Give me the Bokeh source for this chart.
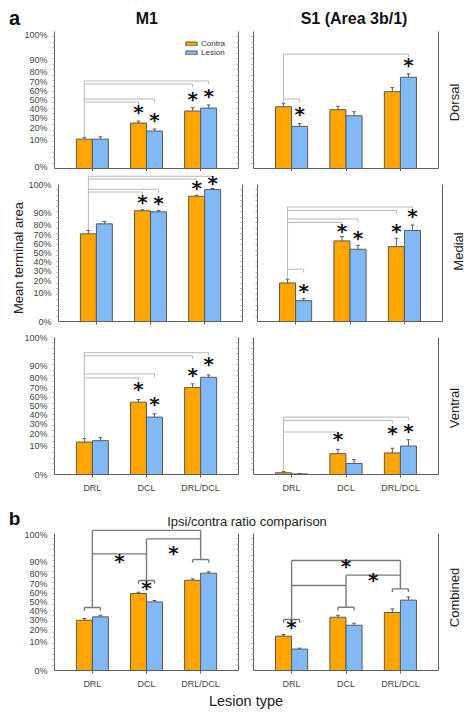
import numpy as np
from bokeh.plotting import figure
from bokeh.models import (ColumnDataSource, FixedTicker, LinearAxis, Range1d,
                          Label, CustomJSTickFormatter)
from bokeh.layouts import column, row
from bokeh.embed import file_html
from bokeh.resources import INLINE
from bokeh.core.properties import value

# ---------------- data ----------------
groups = ["DRL", "DCL", "DRL/DCL"]
series = ["Contra", "Lesion"]
tick_percent = [0, 10, 20, 30, 40, 50, 60, 70, 80, 90, 100]

# mean terminal area (proportion) per group, and upper error (SEM)
dorsal_m1_contra = [0.109, 0.248, 0.375]
dorsal_m1_lesion = [0.109, 0.173, 0.408]
dorsal_m1_contra_sem = [0.013, 0.020, 0.037]
dorsal_m1_lesion_sem = [0.017, 0.018, 0.035]

dorsal_s1_contra = [0.423, 0.390, 0.595]
dorsal_s1_lesion = [0.216, 0.323, 0.749]
dorsal_s1_contra_sem = [0.039, 0.038, 0.045]
dorsal_s1_lesion_sem = [0.025, 0.044, 0.033]

medial_m1_contra = [0.713, 0.912, 0.982]
medial_m1_lesion = [0.810, 0.905, 0.9966]
medial_m1_contra_sem = [0.034, 0.0065, 0.0027]
medial_m1_lesion_sem = [0.021, 0.0095, 0.0013]

medial_s1_contra = [0.183, 0.637, 0.573]
medial_s1_lesion = [0.056, 0.543, 0.747]
medial_s1_contra_sem = [0.034, 0.047, 0.093]
medial_s1_lesion_sem = [0.011, 0.045, 0.052]

ventral_m1_contra = [0.132, 0.544, 0.705]
ventral_m1_lesion = [0.143, 0.374, 0.806]
ventral_m1_contra_sem = [0.028, 0.030, 0.038]
ventral_m1_lesion_sem = [0.025, 0.037, 0.021]

ventral_s1_contra = [0.0004, 0.056, 0.060]
ventral_s1_lesion = [0.00005, 0.016, 0.103]
ventral_s1_contra_sem = [0.0008, 0.025, 0.0275]
ventral_s1_lesion_sem = [0.0001, 0.013, 0.048]

combined_m1_contra = [0.297, 0.597, 0.739]
combined_m1_lesion = [0.333, 0.501, 0.807]
combined_m1_contra_sem = [0.018, 0.014, 0.014]
combined_m1_lesion_sem = [0.018, 0.016, 0.012]

combined_s1_contra = [0.147, 0.329, 0.381]
combined_s1_lesion = [0.059, 0.246, 0.521]
combined_s1_contra_sem = [0.014, 0.022, 0.040]
combined_s1_lesion_sem = [0.005, 0.0205, 0.037]

# significance annotations (bar index: 0=DRL contra,1=DRL lesion,2=DCL contra,...)
# comparisons vs DRL contra: target bar, bracket level (axis fraction)
dorsal_m1_cmp = ([5, 4, 3, 2], [0.639, 0.617, 0.507, 0.485])
dorsal_s1_cmp = ([5, 1], [0.835, 0.507])
medial_m1_cmp = ([5, 4, 3, 2], [1.06, 1.04, 0.965, 0.945])
medial_s1_cmp = ([5, 4, 3, 2, 1], [0.836, 0.811, 0.748, 0.723, 0.382])
ventral_m1_cmp = ([5, 4, 3, 2], [0.889, 0.867, 0.734, 0.705])
ventral_s1_cmp = ([5, 4, 2], [0.419, 0.395, 0.31])
# starred bars and star level
dorsal_m1_star = ([2, 3, 4, 5], [0.414, 0.354, 0.507, 0.529])
dorsal_s1_star = ([1, 5], [0.395, 0.756])
medial_m1_star = ([2, 3, 4, 5], [0.87, 0.865, 0.976, 1.0125])
medial_s1_star = ([1, 2, 3, 4, 5], [0.223, 0.657, 0.608, 0.664, 0.767])
ventral_m1_star = ([2, 3, 4, 5], [0.625, 0.516, 0.729, 0.807])
ventral_s1_star = ([2, 4, 5], [0.2565, 0.305, 0.315])
# combined: pair bracket levels, group links (g1, g2, level), stars (x, level)
combined_m1_pairs = [0.46, 0.657, 0.81]
combined_m1_links = [(0, 1, 0.851), (1, 2, 0.9606), (0, 2, 1.024)]
combined_m1_stars = ([1.5, 2.5, 2.0], [0.798, 0.858, 0.599])
combined_s1_pairs = [0.372, 0.462, 0.596]
combined_s1_links = [(0, 1, 0.62), (1, 2, 0.696), (0, 2, 0.803)]
combined_s1_stars = ([2.0, 2.5, 1.0], [0.761, 0.657, 0.316])

# ---------------- style ----------------
ORANGE = "#FFA500"
BLUE = "#80B9F5"
EDGE = "#5a5a5a"
AXIS = "#5f5f5f"
LIGHT = "#b8b8b8"
DARK = "#7a7a7a"
FONT = "Liberation Sans"
SPAN = 137.0          # px between 0% and 100%
DROP = 3.2 / SPAN
W_M1 = 184
W_S1 = 185
W_R = 25


def t_of(p):
    p = np.clip(np.asarray(p, dtype=float), 0, 1)
    return np.arcsin(np.sqrt(p)) / (np.pi / 2)


tick_t = [float(v) for v in t_of(np.array(tick_percent) / 100.0)]
minor_t = [round(0.04 * k, 4) for k in range(1, 25)]
GX = np.arange(1, len(groups) + 1, dtype=float)
OFF = 0.148
bar_x = np.array([g + s for g in GX for s in (-OFF, OFF)])

pct_fmt = CustomJSTickFormatter(
    code="return Math.round(Math.pow(Math.sin(tick*Math.PI/2),2)*100) + '%';")


def lab(p, x, y, text, size, bold=False, angle=0.0, align="center",
        color="#111111"):
    p.add_layout(Label(x=x, y=y, x_units="screen", y_units="screen", text=text,
                       text_font=FONT, text_font_size=f"{size}px",
                       text_font_style="bold" if bold else "normal",
                       angle=angle, text_align=align, text_baseline="middle",
                       text_color=color))


def text_fig(w, h):
    p = figure(frame_width=w, frame_height=h, min_border=0,
               x_range=Range1d(0, w), y_range=Range1d(0, h),
               x_axis_location=None, y_axis_location=None,
               toolbar_location=None, output_backend="svg",
               outline_line_color=None, border_fill_color="white",
               background_fill_color="white")
    p.grid.visible = False
    return p


def panel(col, top, fh, bottom, left, contra, lesion, c_sem, l_sem,
          show_x=False, legend=False):
    if col == 0:
        right, fw = 7, W_M1
    else:
        left, right, fw = 8, 3, W_S1
    p = figure(frame_width=fw, frame_height=fh, min_border_left=left,
               min_border_right=right, min_border_top=top,
               min_border_bottom=bottom, x_range=Range1d(0.3, 3.7),
               y_range=Range1d(0, fh / SPAN if fh > SPAN else 1.0),
               x_axis_location=None,
               y_axis_location=None, toolbar_location=None,
               output_backend="svg", outline_line_color=None,
               background_fill_color="white", border_fill_color="white")
    p.grid.visible = False

    # left axis
    if col == 0:
        yl = LinearAxis(ticker=FixedTicker(ticks=tick_t, minor_ticks=minor_t),
                        formatter=pct_fmt, major_label_standoff=5,
                        major_label_text_font_size="9px",
                        major_label_text_color="#444444",
                        major_label_text_font=FONT)
    else:
        yl = LinearAxis(ticker=FixedTicker(ticks=[], minor_ticks=minor_t),
                        major_label_standoff=0)
    yl.bounds = (0, 1)
    yl.major_tick_in = 0
    yl.major_tick_out = 0
    yl.minor_tick_in = 0
    yl.minor_tick_out = 2
    yl.minor_tick_line_color = "#a8a8a8"
    yl.axis_line_color = AXIS
    p.add_layout(yl, "left")

    # right frame line
    yr = LinearAxis(ticker=FixedTicker(ticks=[], minor_ticks=minor_t if col == 0 else []),
                    major_label_standoff=0,
                    bounds=(0, 1), major_tick_in=0, major_tick_out=0,
                    minor_tick_in=2, minor_tick_out=0,
                    minor_tick_line_color="#a8a8a8", axis_line_color=AXIS)
    p.add_layout(yr, "right")

    # bottom axis
    if show_x:
        xa = LinearAxis(ticker=FixedTicker(ticks=list(GX)),
                        major_label_overrides={i + 1: g for i, g in enumerate(groups)},
                        major_tick_in=0, major_tick_out=3,
                        major_label_standoff=5,
                        major_label_text_font_size="9px",
                        major_label_text_color="#444444",
                        major_label_text_font=FONT)
    else:
        xa = LinearAxis(ticker=FixedTicker(ticks=[], minor_ticks=list(GX)),
                        major_tick_in=0, major_tick_out=0,
                        minor_tick_in=0, minor_tick_out=3,
                        major_label_standoff=0)
    xa.axis_line_color = AXIS
    xa.major_tick_line_color = AXIS
    xa.minor_tick_line_color = AXIS
    p.add_layout(xa, "below")

    # bars
    c_src = ColumnDataSource(dict(x=GX - OFF, top=t_of(contra)))
    l_src = ColumnDataSource(dict(x=GX + OFF, top=t_of(lesion)))
    kw_c = dict(legend_label=series[0]) if legend else {}
    kw_l = dict(legend_label=series[1]) if legend else {}
    p.vbar(x="x", top="top", bottom=0, width=0.295, fill_color=ORANGE,
           line_color=EDGE, line_width=1, source=c_src, **kw_c)
    p.vbar(x="x", top="top", bottom=0, width=0.295, fill_color=BLUE,
           line_color=EDGE, line_width=1, source=l_src, **kw_l)

    # error bars
    means = np.array([v for pair in zip(contra, lesion) for v in pair])
    sems = np.array([v for pair in zip(c_sem, l_sem) for v in pair])
    mt = t_of(means)
    et = t_of(means + sems)
    p.segment(x0=bar_x, y0=mt, x1=bar_x, y1=et, line_color=EDGE, line_width=1)
    p.segment(x0=bar_x - 0.035, y0=et, x1=bar_x + 0.035, y1=et,
              line_color=EDGE, line_width=1)

    if legend:
        lg = p.legend[0]
        lg.location = (130, 111)
        lg.border_line_color = None
        lg.background_fill_alpha = 0
        lg.padding = 0
        lg.margin = 0
        lg.spacing = -2
        lg.glyph_width = 14
        lg.glyph_height = 5
        lg.label_height = 6
        lg.label_standoff = 3
        lg.label_text_font_size = "8px"
        lg.label_text_font = FONT
        lg.label_text_color = "#333333"
    return p, et


def stars(p, xs, ys):
    p.text(x=list(xs), y=list(ys), text=["*"] * len(xs),
           text_font=value("DejaVu Sans"), text_font_style="bold",
           text_font_size="20px", text_align="center",
           text_baseline="alphabetic", y_offset=0, text_color="#111111")


def brackets_a(p, et, cmp, star):
    targets, levels = cmp
    sx = bar_x[0]
    x0, y0, x1, y1 = [sx], [et[0]], [sx], [max(levels)]
    for tg, lv in zip(targets, levels):
        x0 += [sx, bar_x[tg]]
        y0 += [lv, lv]
        x1 += [bar_x[tg], bar_x[tg]]
        y1 += [lv, lv - DROP]
    p.segment(x0=x0, y0=y0, x1=x1, y1=y1, line_color=LIGHT, line_width=1)
    stars(p, [bar_x[i] for i in star[0]], star[1])


def brackets_b(p, pairs, links, st):
    x0, y0, x1, y1 = [], [], [], []
    for g, lv in enumerate(pairs):
        xa, xb = bar_x[2 * g], bar_x[2 * g + 1]
        x0 += [xa, xa, xb]
        y0 += [lv, lv, lv]
        x1 += [xb, xa, xb]
        y1 += [lv, lv - DROP, lv - DROP]
        tops = [l[2] for l in links if g in (l[0], l[1])]
        x0.append(GX[g]); y0.append(lv); x1.append(GX[g]); y1.append(max(tops))
    for g1, g2, lv in links:
        x0.append(GX[g1]); y0.append(lv); x1.append(GX[g2]); y1.append(lv)
    p.segment(x0=x0, y0=y0, x1=x1, y1=y1, line_color=DARK, line_width=1.4)
    stars(p, st[0], st[1])


def row_label(h, text, y):
    f = text_fig(W_R, h)
    lab(f, 13, y, text, 13, angle=np.pi / 2, color="#222222")
    return f


TOTAL_W = 245 + 196 + W_R

# ---------------- top titles ----------------
top = text_fig(TOTAL_W, 29)
lab(top, 14, 11.2, "a", 20, bold=True)
lab(top, 146.3, 10.8, "M1", 16, bold=True)
lab(top, 353.5, 10.8, "S1 (Area 3b/1)", 16, bold=True)

# ---------------- dorsal ----------------
d1, e = panel(0, 2, 137, 3, 54, dorsal_m1_contra, dorsal_m1_lesion,
              dorsal_m1_contra_sem, dorsal_m1_lesion_sem, legend=True)
brackets_a(d1, e, dorsal_m1_cmp, dorsal_m1_star)
d2, e = panel(1, 2, 137, 3, 8, dorsal_s1_contra, dorsal_s1_lesion,
              dorsal_s1_contra_sem, dorsal_s1_lesion_sem)
brackets_a(d2, e, dorsal_s1_cmp, dorsal_s1_star)
d3 = row_label(142, "Dorsal", 71)

# ---------------- medial ----------------
ml = text_fig(25, 156)
lab(ml, 17.5, 69.5, "Mean terminal area", 13, angle=np.pi / 2, color="#222222")
m1, e = panel(0, 0, 150, 6, 29, medial_m1_contra, medial_m1_lesion,
              medial_m1_contra_sem, medial_m1_lesion_sem)
brackets_a(m1, e, medial_m1_cmp, medial_m1_star)
m2, e = panel(1, 0, 150, 6, 8, medial_s1_contra, medial_s1_lesion,
              medial_s1_contra_sem, medial_s1_lesion_sem)
brackets_a(m2, e, medial_s1_cmp, medial_s1_star)
m3 = row_label(156, "Medial", 76)

# ---------------- ventral ----------------
v1, e = panel(0, 0, 147, 20, 54, ventral_m1_contra, ventral_m1_lesion,
              ventral_m1_contra_sem, ventral_m1_lesion_sem, show_x=True)
brackets_a(v1, e, ventral_m1_cmp, ventral_m1_star)
v2, e = panel(1, 0, 147, 20, 8, ventral_s1_contra, ventral_s1_lesion,
              ventral_s1_contra_sem, ventral_s1_lesion_sem, show_x=True)
brackets_a(v2, e, ventral_s1_cmp, ventral_s1_star)
v3 = row_label(167, "Ventral", 86.5)

# ---------------- part b title ----------------
tb = text_fig(TOTAL_W, 34)
lab(tb, 14, 11.5, "b", 19, bold=True)
lab(tb, 246.5, 8, "Ipsi/contra ratio comparison", 13, color="#222222")

# ---------------- combined ----------------
c1, e = panel(0, 0, 141, 21, 54, combined_m1_contra, combined_m1_lesion,
              combined_m1_contra_sem, combined_m1_lesion_sem, show_x=True)
brackets_b(c1, combined_m1_pairs, combined_m1_links, combined_m1_stars)
c2, e = panel(1, 0, 141, 21, 8, combined_s1_contra, combined_s1_lesion,
              combined_s1_contra_sem, combined_s1_lesion_sem, show_x=True)
brackets_b(c2, combined_s1_pairs, combined_s1_links, combined_s1_stars)
c3 = row_label(162, "Combined", 94)

bt = text_fig(TOTAL_W, 20)
lab(bt, 245.5, 10.2, "Lesion type", 14.5, color="#222222")

layout = column(top, row(d1, d2, d3), row(ml, m1, m2, m3), row(v1, v2, v3),
                tb, row(c1, c2, c3), bt)

open("out.html", "w").write(file_html(layout, INLINE))
